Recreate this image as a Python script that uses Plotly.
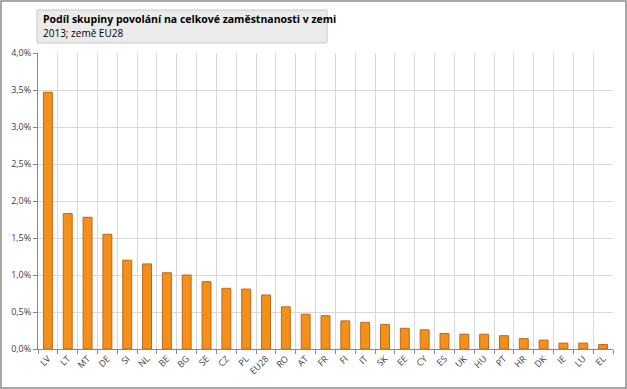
import plotly.graph_objects as go

countries = ["LV", "LT", "MT", "DE", "SI", "NL", "BE", "BG", "SE", "CZ", "PL", "EU28", "RO", "AT", "FR",
             "FI", "IT", "SK", "EE", "CY", "ES", "UK", "HU", "PT", "HR", "DK", "IE", "LU", "EL"]
shares = [3.47, 1.83, 1.78, 1.55, 1.20, 1.15, 1.03, 1.00, 0.91, 0.82, 0.81, 0.73, 0.57, 0.47, 0.45,
          0.38, 0.36, 0.33, 0.28, 0.26, 0.21, 0.20, 0.20, 0.18, 0.14, 0.12, 0.08, 0.08, 0.06]
values = [v / 100 for v in shares]
title_line1 = "Podíl skupiny povolání na celkové zaměstnanosti v zemi"
title_line2 = "2013; země EU28"

W, H = 627, 389
L, R, T, B = 38, 14, 53, 40
pw, ph = W - L - R, H - T - B

def px(x):
    return (x - L) / pw

def py(y):
    return (H - B - y) / ph

fig = go.Figure(go.Bar(
    x=countries, y=values,
    marker=dict(color="#F39019", line=dict(color="#C4661A", width=1)),
    width=0.45,
))

fig.update_layout(
    width=W, height=H,
    margin=dict(l=L, r=R, t=T, b=B),
    paper_bgcolor="white", plot_bgcolor="white",
    separators=", ",
    font=dict(family="Open Sans", size=9, color="#404040"),
    showlegend=False,
    xaxis=dict(
        type="category", tickson="boundaries", showgrid=True, gridcolor="#D9D9D9", gridwidth=1,
        showline=True, linecolor="#888888", ticks="outside", ticklen=4, tickcolor="#888888",
        tickangle=-45, tickfont=dict(size=9, color="#404040"), range=[-0.5, len(countries) - 0.5],
    ),
    yaxis=dict(
        range=[0, 0.04], dtick=0.005, tickformat=".1%", showgrid=True, gridcolor="#D9D9D9", gridwidth=1,
        showline=True, linecolor="#888888", ticks="outside", ticklen=4, tickcolor="#888888",
        tickfont=dict(size=9, color="#404040"), zeroline=False,
    ),
    shapes=[
        dict(type="rect", xref="paper", yref="paper", x0=px(1), x1=px(W - 1), y0=py(1), y1=py(H - 1),
             line=dict(color="#8C8C8C", width=1.5), fillcolor="rgba(0,0,0,0)", layer="above"),
        dict(type="rect", xref="paper", yref="paper", x0=px(37), x1=px(327), y0=py(10), y1=py(43),
             line=dict(color="#C8C8C8", width=1), fillcolor="#EBEBEB", layer="above"),
    ],
    annotations=[
        dict(xref="paper", yref="paper", x=px(41), y=py(19), xanchor="left", yanchor="middle",
             text="<b>" + title_line1 + "</b>", showarrow=False, font=dict(size=10.5, color="#000000")),
        dict(xref="paper", yref="paper", x=px(41), y=py(33), xanchor="left", yanchor="middle",
             text=title_line2, showarrow=False, font=dict(size=10, color="#000000")),
    ],
)

fig.write_html("out.html")
